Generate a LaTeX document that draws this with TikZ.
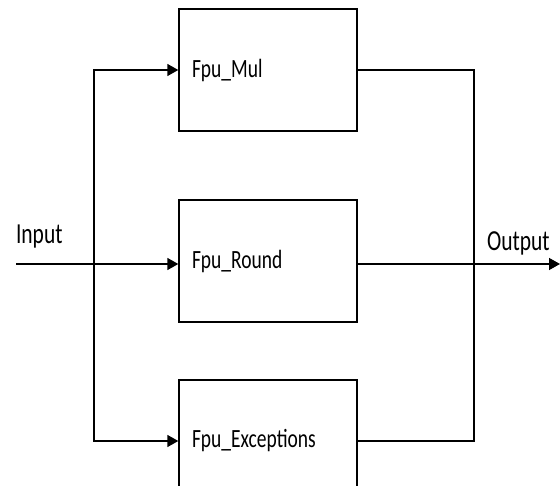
\documentclass[tikz,border=0pt]{standalone}
\usepackage{fontspec}
\usepackage{graphicx}
\setmainfont{Carlito}
\usetikzlibrary{positioning,calc,arrows.meta}
\newcommand{\tall}[1]{\scalebox{1}[1.35]{#1}}
\newcommand{\fpunit}[3]{\node [unitbox] (#1) at (#2) {\tall{#3}}}

\begin{document}
\begin{tikzpicture}[x=1pt,y=-1pt,
  unitbox/.style={draw, line width=1.4pt, minimum height=122pt, text width=152pt,
    inner xsep=13pt, inner ysep=0pt, align=left},
  portlabel/.style={anchor=west, font=\fontsize{21.5}{25}\selectfont},
  flow/.style={-{Triangle[length=11pt,width=12pt]}},
  font=\fontsize{19.5}{23}\selectfont, line width=1.4pt]

\clip[use as bounding box] (0,0) rectangle (560,486);

\fpunit{MUL}{268,70}{Fpu\_Mul};
\fpunit{RND}{268,261}{Fpu\_Round};
\fpunit{EXC}{268,441}{Fpu\_Exceptions};

\coordinate (IN) at (16,264);
\coordinate (SPLIT) at (94,264);
\coordinate (JOIN) at (474,264);
\coordinate (OUT) at (560,264);

\node [portlabel] (INL) at (12,237) {\tall{Input}};
\node [portlabel] (OUTL) at (483,243) {\tall{Output}};

\draw[flow] (IN) -- (IN -| RND.west);
\draw[flow] (SPLIT) |- (MUL.west);
\draw[flow] (SPLIT) |- (EXC.west);
\draw (MUL.east) -| (JOIN);
\draw (EXC.east) -| (JOIN);
\draw[flow] (IN -| RND.east) -- (OUT);

\end{tikzpicture}
\end{document}
